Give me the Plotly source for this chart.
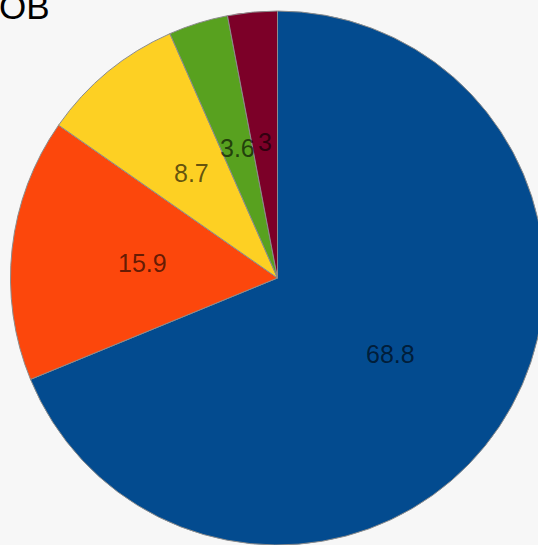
import math
import plotly.graph_objects as go

labels = ["A", "B", "C", "D", "E"]
values = [68.8, 15.9, 8.7, 3.6, 3.0]
text_labels = ["68.8", "15.9", "8.7", "3.6", "3"]
colors = ["#034b8f", "#fc470c", "#fdd023", "#58a11f", "#7c0028"]
title_text = "OB"

W, H = 546, 546
cx, cy, R = 277.5, 278, 267
label_r = 0.51

dom_x = [(cx - R) / W, (cx + R) / W]
dom_y = [1 - (cy + R) / H, 1 - (cy - R) / H]

fig = go.Figure(go.Pie(
    labels=labels,
    values=values,
    textinfo="none",
    sort=False,
    direction="clockwise",
    rotation=0,
    marker=dict(colors=colors, line=dict(color="#8c8c8c", width=1)),
    showlegend=False,
    hoverinfo="skip",
    domain=dict(x=dom_x, y=dom_y),
))

# slice labels placed at mid-angle of each slice
total = sum(values)
cum = 0.0
for v, t in zip(values, text_labels):
    theta = 2 * math.pi * (cum + v / 2) / total
    cum += v
    px = cx + label_r * R * math.sin(theta)
    py = cy - label_r * R * math.cos(theta)
    fig.add_annotation(
        text=t, xref="paper", yref="paper", x=px / W, y=1 - py / H,
        xanchor="center", yanchor="middle", showarrow=False,
        font=dict(family="Liberation Sans, Arial, sans-serif", size=25, color="rgba(0,0,0,0.62)"),
    )

fig.add_annotation(
    text=title_text, xref="paper", yref="paper", x=0, y=1,
    xanchor="left", yanchor="top", yshift=15, xshift=-3, showarrow=False,
    font=dict(family="Liberation Sans, Arial, sans-serif", size=35, color="#000"),
)

fig.update_layout(
    width=W, height=H,
    margin=dict(l=0, r=0, t=0, b=0),
    paper_bgcolor="#f7f7f7",
    plot_bgcolor="#f7f7f7",
)

fig.write_html(
    "out.html",
    config={"displayModeBar": False},
    post_script="document.body.style.margin='0';document.body.style.overflow='hidden';document.documentElement.style.overflow='hidden';",
)
